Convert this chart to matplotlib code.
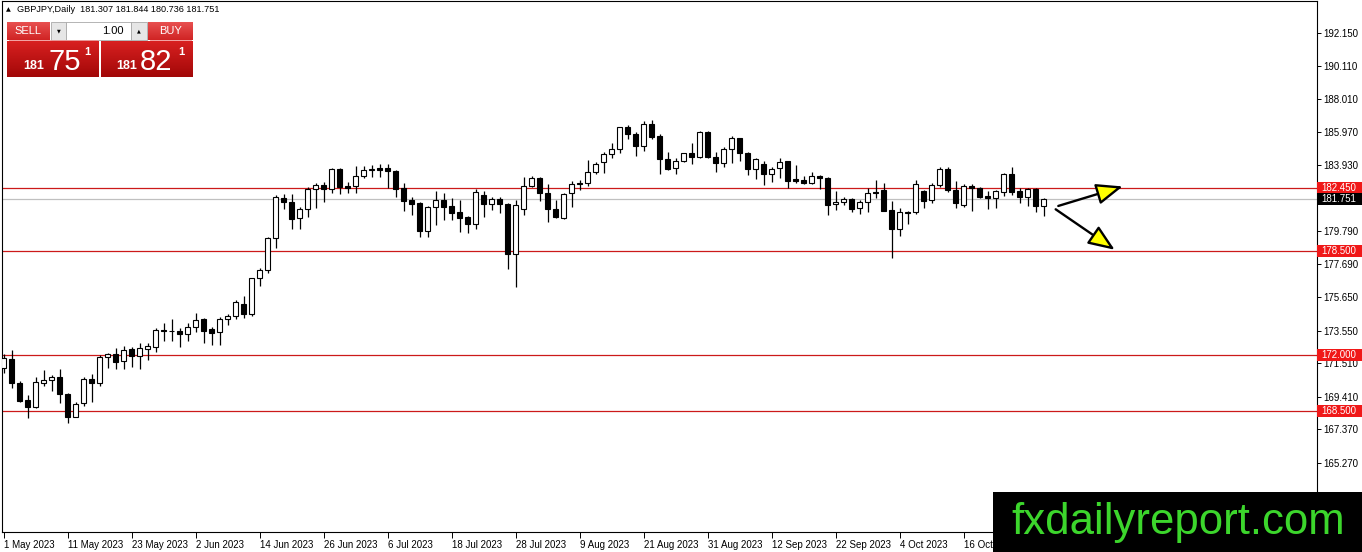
import numpy as np
import pandas as pd
import matplotlib
matplotlib.use("Agg")
import matplotlib.pyplot as plt
from matplotlib.patches import Rectangle, FancyArrowPatch
from matplotlib.colors import LinearSegmentedColormap
from matplotlib.transforms import blended_transform_factory

plt.rcParams['font.family'] = ['Liberation Sans', 'DejaVu Sans']

W, H = 1362, 552

# --- GBPJPY daily, 1 May 2023 .. 30 Oct 2023 ---
start_date = "2023-05-01"
opens = [171.19, 171.78, 170.26, 169.19, 168.79, 170.29, 170.44, 170.65, 169.57, 168.17,
         169.05, 170.53, 170.29, 171.88, 172.09, 171.67, 172.40, 171.94, 172.38, 172.55,
         173.57, 173.50, 173.54, 173.32, 173.80, 174.28, 173.63, 173.44, 174.25, 174.46,
         175.19, 174.57, 176.82, 177.32, 179.32, 181.82, 181.57, 180.57, 181.13, 182.38,
         182.63, 182.38, 183.63, 182.59, 182.59, 183.23, 183.59, 183.71, 183.71, 183.53,
         182.44, 181.71, 181.55, 179.80, 181.25, 181.71, 181.34, 180.98, 180.63, 180.21,
         182.03, 181.44, 181.75, 181.46, 178.34, 181.17, 182.57, 183.09, 182.13, 181.15,
         180.57, 182.13, 182.78, 182.76, 183.44, 184.07, 184.57, 184.88, 186.29, 185.84,
         185.11, 186.44, 185.71, 184.26, 183.69, 184.17, 184.63, 184.38, 185.96, 184.38,
         184.05, 184.88, 185.57, 184.67, 183.63, 183.96, 183.32, 183.69, 184.15, 183.01,
         182.96, 182.76, 183.21, 183.07, 181.44, 181.57, 181.78, 181.19, 181.61, 182.23,
         182.34, 181.09, 179.88, 180.98, 180.98, 182.28, 181.71, 182.65, 183.63, 182.34,
         181.38, 182.59, 182.44, 181.96, 181.82, 182.19, 183.34, 182.28, 181.88, 182.40,
         181.307]
highs = [172.09, 172.34, 170.42, 169.52, 170.63, 171.09, 170.78, 171.15, 169.67, 169.11,
         170.63, 170.84, 172.01, 172.17, 172.48, 172.59, 172.55, 172.79, 172.79, 173.69,
         174.01, 174.28, 173.71, 174.05, 174.63, 174.32, 173.75, 174.38, 174.59, 175.46,
         175.73, 176.86, 177.44, 179.40, 182.03, 182.07, 182.07, 181.25, 182.50, 182.80,
         182.82, 183.69, 183.69, 182.82, 183.84, 183.86, 183.90, 183.94, 183.96, 183.59,
         182.76, 181.92, 181.61, 181.34, 182.28, 182.13, 181.82, 181.71, 180.71, 182.40,
         182.29, 181.92, 181.92, 181.50, 181.71, 183.17, 183.23, 183.17, 182.71, 181.71,
         182.13, 182.90, 182.96, 184.21, 184.11, 184.69, 185.26, 186.29, 186.40, 185.98,
         186.67, 186.71, 185.84, 184.69, 184.36, 184.67, 185.26, 186.03, 186.03, 184.69,
         185.05, 185.71, 185.61, 184.73, 184.36, 184.17, 183.79, 184.32, 184.17, 183.90,
         183.21, 183.48, 183.27, 183.13, 182.28, 181.92, 181.86, 181.71, 182.44, 182.96,
         182.80, 181.65, 181.19, 181.03, 182.96, 182.34, 182.76, 183.76, 183.76, 182.92,
         182.69, 182.71, 182.50, 182.29, 182.34, 183.38, 183.76, 182.44, 182.48, 182.48,
         181.844]
lows = [170.92, 169.94, 169.09, 168.07, 168.69, 170.11, 169.79, 169.05, 167.79, 168.13,
        168.86, 169.11, 170.11, 171.19, 171.17, 171.17, 171.25, 171.15, 171.71, 172.19,
        172.92, 172.92, 172.51, 172.92, 173.48, 172.80, 172.65, 172.65, 173.90, 174.25,
        174.32, 174.48, 176.34, 177.17, 178.73, 181.15, 179.88, 179.88, 180.67, 181.23,
        181.61, 182.17, 182.07, 182.17, 182.13, 183.07, 183.17, 183.17, 182.44, 181.92,
        181.05, 180.78, 179.42, 179.42, 180.15, 180.46, 180.46, 179.73, 179.67, 179.88,
        180.67, 181.09, 180.88, 177.38, 176.30, 180.78, 182.50, 181.67, 180.36, 180.59,
        180.52, 181.30, 182.34, 182.61, 183.34, 183.38, 184.32, 184.63, 185.53, 184.48,
        184.79, 185.53, 183.32, 183.59, 183.32, 184.07, 183.94, 184.32, 184.32, 183.48,
        183.76, 184.01, 184.17, 183.28, 183.01, 182.65, 182.86, 183.11, 182.44, 182.76,
        182.69, 182.69, 182.38, 180.78, 181.09, 181.40, 180.98, 180.82, 180.98, 181.82,
        181.00, 178.07, 179.48, 180.21, 180.82, 181.19, 181.51, 182.55, 182.23, 181.19,
        181.30, 181.05, 181.82, 181.13, 181.23, 181.98, 182.03, 181.55, 181.36, 180.98,
        180.736]
closes = [171.82, 170.26, 169.17, 168.79, 170.32, 170.44, 170.65, 169.57, 168.17, 168.96,
          170.53, 170.29, 171.90, 172.09, 171.61, 172.34, 171.98, 172.46, 172.59, 173.59,
          173.52, 173.54, 173.32, 173.80, 174.19, 173.55, 173.42, 174.25, 174.46, 175.32,
          174.57, 176.82, 177.32, 179.32, 181.88, 181.57, 180.55, 181.13, 182.40, 182.63,
          182.38, 183.63, 182.50, 182.44, 183.21, 183.59, 183.62, 183.59, 183.51, 182.38,
          181.67, 181.44, 179.80, 181.25, 181.71, 181.30, 180.92, 180.61, 180.21, 182.19,
          181.44, 181.75, 181.44, 178.34, 181.40, 182.57, 183.09, 182.13, 181.13, 180.67,
          182.07, 182.71, 182.72, 183.46, 183.96, 184.61, 184.88, 186.25, 185.84, 185.09,
          186.44, 185.67, 184.26, 183.65, 184.17, 184.63, 184.38, 185.96, 184.38, 184.01,
          184.88, 185.57, 184.63, 183.63, 184.26, 183.32, 183.63, 184.11, 182.92, 182.90,
          182.76, 183.21, 183.07, 181.40, 181.61, 181.75, 181.15, 181.61, 182.13, 182.13,
          181.05, 179.88, 180.94, 180.92, 182.69, 181.67, 182.63, 183.63, 182.34, 181.55,
          182.59, 182.48, 181.92, 181.82, 182.26, 183.34, 182.23, 181.88, 182.40, 181.34,
          181.751]

levels = [182.45, 178.50, 172.00, 168.50]     # red horizontal lines
bid = 181.751
price_ticks = [192.150, 190.110, 188.010, 185.970, 183.930, 179.790, 177.690,
               175.650, 173.550, 171.510, 169.410, 167.370, 165.270]
label_every = 8
last_label_bar = 120   # later labels sit under the watermark

# the two annotation arrows (bar index, price)
arrow_up = ((131.85, 181.34), (139.9, 182.56))
arrow_down = ((131.52, 181.13), (138.9, 178.6))

dates = pd.bdate_range(start_date, periods=len(closes))
xs = np.arange(len(closes))

fig = plt.figure(figsize=(W / 100, H / 100), dpi=100)
fig.patch.set_facecolor("white")
ax = fig.add_axes([2 / W, 20 / H, 1314.5 / W, 531 / H])
ax.set_xlim(-0.1875, 164.125)
ax.set_ylim(160.96, 194.15)

# levels + bid line
for lv in levels:
    ax.axhline(lv, color="#cc1a1a", lw=0.9, zorder=1)
ax.axhline(bid, color="#c0c0c0", lw=0.9, zorder=1)

# candles
bw = 0.6
for x, o, h, l, c in zip(xs, opens, highs, lows, closes):
    ax.plot([x, x], [l, h], color="black", lw=0.9, zorder=2, solid_capstyle="butt")
    body = max(abs(c - o), 0.025)
    fc = "white" if c >= o else "black"
    ax.add_patch(Rectangle((x - bw / 2, min(o, c)), bw, body, fc=fc, ec="black",
                           lw=0.8, zorder=3))

# arrows
for (p0, p1) in (arrow_up, arrow_down):
    ax.add_patch(FancyArrowPatch(p0, p1, arrowstyle="-|>,head_length=0.9,head_width=0.36",
                                 mutation_scale=18, fc="#ffff00", ec="black", lw=1.7,
                                 shrinkA=0, shrinkB=0, zorder=4))

# axes styling
for sp in ax.spines.values():
    sp.set_color("black")
    sp.set_linewidth(0.8)
ax.yaxis.tick_right()
ax.set_yticks(price_ticks)
ax.set_yticklabels([f"{v:.3f}" for v in price_ticks])
ax.tick_params(axis="y", length=3, pad=2, labelsize=7, width=0.7, colors="black")
tick_pos = xs[:last_label_bar + 1:label_every]
ax.set_xticks(tick_pos)
ax.set_xticklabels([f"{dates[i].day} {dates[i].strftime('%b %Y')}" for i in tick_pos],
                   ha="left")
ax.tick_params(axis="x", length=4, pad=1.5, labelsize=7, width=0.7)

# price labels on the right scale
tr = blended_transform_factory(ax.transAxes, ax.transData)
bx_w = 45 / 1314.5
for val, col in [(lv, "#f01818") for lv in levels] + [(bid, "black")]:
    ax.add_patch(Rectangle((1.0, val - 0.38), bx_w, 0.76, transform=tr, fc=col,
                           ec="none", clip_on=False, zorder=6))
    ax.text(1.0 + 0.004, val, f"{val:.3f}", transform=tr, color="white", fontsize=7,
            va="center", ha="left", zorder=7, clip_on=False)

# overlay in pixel coordinates for the trade panel and the watermark
ov = fig.add_axes([0, 0, 1, 1], zorder=5)
ov.patch.set_alpha(0)


def grad_box(x0, y0, x1, y1, c_top, c_bot):
    cmap = LinearSegmentedColormap.from_list("g", [c_top, c_bot])
    ov.imshow(np.linspace(0, 1, 64).reshape(-1, 1), extent=(x0, x1, y1, y0), cmap=cmap,
              aspect="auto", interpolation="bilinear", zorder=2)


ov.text(6, 9.5, "▲", fontsize=4.5, family="DejaVu Sans", va="center", ha="left")
ov.text(17, 9.5, "GBPJPY,Daily  181.307 181.844 180.736 181.751", fontsize=6.6,
        va="center", ha="left")

# sell / buy buttons
grad_box(7, 22, 49.5, 40, "#e85050", "#d02424")
grad_box(148, 22, 193, 40, "#e85050", "#d02424")
grad_box(7, 41, 99, 77, "#d82020", "#a20808")
grad_box(101, 41, 193, 77, "#d82020", "#a20808")
ov.plot([9, 97], [39.5, 39.5], color="#f09090", lw=0.6, zorder=3)
ov.plot([150, 191], [39.5, 39.5], color="#f09090", lw=0.6, zorder=3)
ov.text(28, 31, "SELL", color="white", fontsize=8, ha="center", va="center", zorder=4)
ov.text(170.5, 31, "BUY", color="white", fontsize=8, ha="center", va="center", zorder=4)

# lot spin box
ov.add_patch(Rectangle((51, 22), 15, 18, fc="#e6e6e6", ec="#a8a8a8", lw=0.6, zorder=2))
ov.add_patch(Rectangle((66, 22), 65, 18, fc="white", ec="#a8a8a8", lw=0.6, zorder=2))
ov.add_patch(Rectangle((131, 22), 15.5, 18, fc="#e6e6e6", ec="#a8a8a8", lw=0.6, zorder=2))
ov.text(58.5, 31, "▼", fontsize=3.5, family="DejaVu Sans", ha="center", va="center", zorder=4)
ov.text(138.8, 31, "▲", fontsize=3.5, family="DejaVu Sans", ha="center", va="center", zorder=4)
ov.text(124, 31, "1.00", fontsize=8, ha="right", va="center", zorder=4)

# quotes
for x_small, x_big, x_sup, big in [(23, 48, 84, "75"), (116, 139.5, 178, "82")]:
    ov.text(x_small, 69, "181", color="white", fontsize=9, fontweight="bold",
            va="baseline", zorder=4)
    ov.text(x_big, 70, big, color="white", fontsize=21, va="baseline", zorder=4)
    ov.text(x_sup, 55, "1", color="white", fontsize=8, fontweight="bold",
            va="baseline", zorder=4)

# watermark
ov.add_patch(Rectangle((993, 492), W - 993, H - 492, fc="black", ec="none", zorder=5))
ov.text(1178, 534, "fxdailyreport.com", color="#3cd62c", fontsize=31.5, ha="center",
        va="baseline", zorder=6)

ov.set_xlim(0, W)
ov.set_ylim(H, 0)
ov.axis("off")

fig.savefig("out.png", dpi=100)
